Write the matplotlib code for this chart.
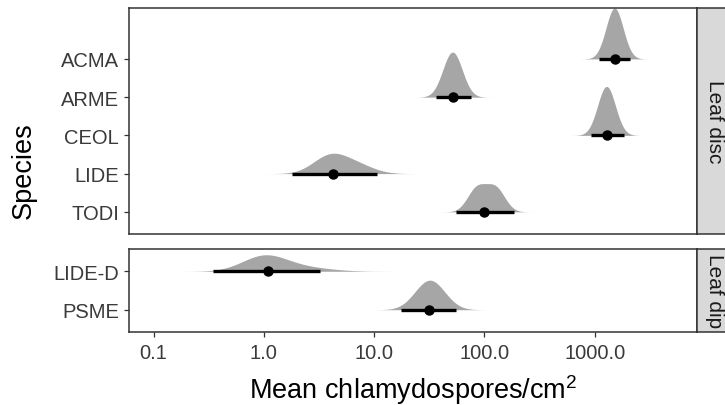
# %%
import numpy as np
import matplotlib.pyplot as plt

plt.rcParams['font.family'] = ['Liberation Sans', 'DejaVu Sans']
plt.rcParams['mathtext.fontset'] = 'custom'
plt.rcParams['mathtext.rm'] = 'Liberation Sans'
plt.rcParams['mathtext.it'] = 'Liberation Sans:italic'
# %%
# species, top to bottom within each facet
species = ["ACMA", "ARME", "CEOL", "LIDE", "TODI", "LIDE-D", "PSME"]
facet = ["Leaf disc"] * 5 + ["Leaf dip"] * 2
ypos = [5, 4, 3, 2, 1, 2, 1]

# point estimate and 95% interval (chlamydospores/cm2)
median = [1514, 51.4, 1280, 4.2, 99, 1.08, 31.3]
lower = [1084, 36.5, 929, 1.8, 55.8, 0.343, 17.5]
upper = [2104, 75.0, 1828, 10.6, 185, 3.2, 54.7]

# density shape: two bumps (centre, spread in decades, weight of first)
bump1 = [1514, 51.4, 1280, 3.98, 85.1, 1.0, 32.0]
bump2 = [1514, 51.4, 1280, 7.08, 126, 2.24, 32.0]
sd1 = [0.078, 0.088, 0.081, 0.155, 0.085, 0.20, 0.135]
sd2 = [0.078, 0.088, 0.081, 0.155, 0.085, 0.25, 0.135]
w1 = [1.0, 1.0, 1.0, 0.7, 0.5, 0.75, 1.0]
tail_lo = [724, 22.9, 562, 0.457, 22.9, 0.117, 8.9]
tail_hi = [3597, 131, 2917, 44.4, 493, 31.3, 140]

xticks = [0.1, 1, 10, 100, 1000]
xticklabels = ["0.1", "1.0", "10.0", "100.0", "1000.0"]
# %%
W, H = 725, 406
fig = plt.figure(figsize=(W / 100, H / 100), dpi=100)

left, right = 129, 696.7
panels = {"Leaf disc": (8.5, 235, (0.42, 6.345)),
          "Leaf dip": (250, 333, (0.42, 2.58))}
axes = {}
for name, (top, bot, ylim) in panels.items():
    ax = fig.add_axes([left / W, 1 - bot / H, (right - left) / W, (bot - top) / H])
    ax.set_xscale('log')
    ax.set_xlim(10 ** -1.223, 10 ** 3.925)
    ax.set_ylim(*ylim)
    for s in ax.spines.values():
        s.set_color('#333333')
        s.set_linewidth(1.1)
    ax.tick_params(axis='both', length=3.6, width=0.9, color='#333333',
                   labelcolor='#3a3a3a', labelsize=14.5)
    ax.minorticks_off()
    sax = fig.add_axes([right / W, 1 - bot / H, 35 / W, (bot - top) / H])
    sax.set_facecolor('#d9d9d9')
    sax.set_xticks([])
    sax.set_yticks([])
    for s in sax.spines.values():
        s.set_color('#333333')
        s.set_linewidth(1.1)
    sax.text(0.5, 0.5, name, rotation=-90, ha='center', va='center',
             fontsize=15, color='#1a1a1a', transform=sax.transAxes, clip_on=True)
    axes[name] = ax

# density curves, all scaled together so the tallest is 1.33 rows
grids, dens = [], []
for i in range(len(species)):
    g = np.linspace(np.log10(tail_lo[i]), np.log10(tail_hi[i]), 400)
    d = (w1[i] * np.exp(-0.5 * ((g - np.log10(bump1[i])) / sd1[i]) ** 2) / sd1[i]
         + (1 - w1[i]) * np.exp(-0.5 * ((g - np.log10(bump2[i])) / sd2[i]) ** 2) / sd2[i])
    grids.append(g)
    dens.append(d)
k = 1.33 / max(d.max() for d in dens)

for i, sp in enumerate(species):
    ax = axes[facet[i]]
    y0 = ypos[i]
    ax.fill_between(10 ** grids[i], y0, y0 + dens[i] * k, color='#a6a6a6', lw=0)
    ax.plot([lower[i], upper[i]], [y0, y0], color='black', lw=2.4, solid_capstyle='butt')
    ax.plot(median[i], y0, 'o', color='black', ms=6.5)

top_ax, bot_ax = axes["Leaf disc"], axes["Leaf dip"]
top_ax.set_yticks([5, 4, 3, 2, 1], species[:5])
bot_ax.set_yticks([2, 1], species[5:])
top_ax.set_xticks([])
bot_ax.set_xticks(xticks, xticklabels)
bot_ax.tick_params(axis='x', pad=4)

fig.text(24 / W, 1 - 171 / H, "Species", rotation=90, ha='center', va='center',
         fontsize=19.5)
fig.text((left + right) / 2 / W, 1 - 399 / H, "Mean chlamydospores/cm$^2$",
         ha='center', va='baseline', fontsize=19.5)

fig.savefig("out.png", dpi=100)
